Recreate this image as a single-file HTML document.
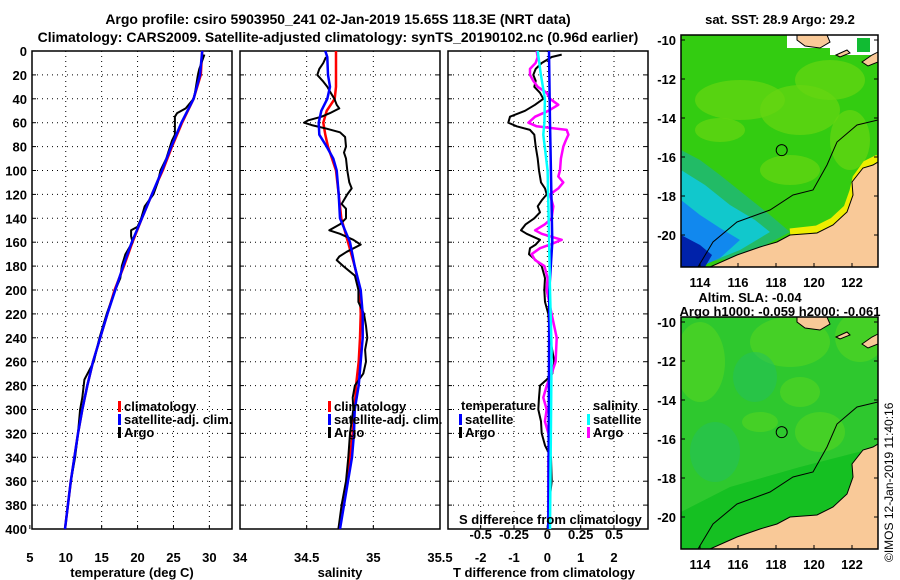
<!DOCTYPE html>
<html><head><meta charset="utf-8"><style>
html,body{margin:0;padding:0;background:#fff}
svg{display:block;font-family:"Liberation Sans",sans-serif;font-weight:bold}
</style></head><body>
<svg id="fig" width="900" height="580" viewBox="0 0 900 580">
<text x="338" y="24" text-anchor="middle" font-size="14">Argo profile: csiro 5903950_241 02-Jan-2019 15.65S 118.3E (NRT data)</text>
<text x="338" y="42" text-anchor="middle" font-size="14">Climatology: CARS2009. Satellite-adjusted climatology: synTS_20190102.nc (0.96d earlier)</text>
<g id="plots"></g>
<g id="maps"></g>
<text transform="translate(893,562) rotate(-90)" font-size="12" font-weight="normal">©IMOS 12-Jan-2019 11:40:16</text>
</svg>
<script>
// ---- data ----
const depthTicks=[0,20,40,60,80,100,120,140,160,180,200,220,240,260,280,300,320,340,360,380,400];
const tClimD=[0,20,40,60,80,100,120,140,160,180,200,220,240,260,280,300,320,340,360,380,400];
const tClim=[29.0,28.8,27.8,26.2,24.8,23.5,22.0,20.6,19.3,18.1,16.8,15.8,14.8,13.8,13.0,12.3,11.7,11.2,10.7,10.3,9.9];
const tSat=[29.0,28.7,27.8,26.1,24.7,23.4,22.0,20.6,19.2,18.0,16.9,15.8,14.8,13.8,13.0,12.3,11.7,11.2,10.7,10.3,9.9];
const tArgoD=[3,15,20,35,40,48,52,55,65,70,75,90,100,110,120,130,140,147,150,155,160,170,180,190,200,220,240,260,275,290,300,320,340,360,380,400];
const tArgo=[29.3,28.6,28.4,28.0,27.8,26.7,25.5,25.2,25.2,25.2,24.8,24.0,23.2,22.8,22.2,21.0,20.5,20.0,19.1,19.1,19.3,18.3,17.8,17.6,16.9,15.7,14.7,13.9,12.6,12.3,12.0,11.7,11.3,10.7,10.3,9.9];
const sClimD=[0,30,40,50,60,70,80,100,120,140,160,180,200,220,240,260,280,300,320,340,360,380,400];
const sClim=[34.72,34.72,34.71,34.65,34.625,34.64,34.66,34.72,34.74,34.76,34.81,34.86,34.9,34.905,34.9,34.89,34.87,34.86,34.845,34.825,34.8,34.775,34.74];
const sSatD=[0,5,20,30,40,50,60,70,80,90,100,120,140,160,180,200,220,240,260,280,300,320,340,360,380,400];
const sSat=[34.64,34.655,34.66,34.675,34.655,34.61,34.59,34.595,34.65,34.70,34.725,34.74,34.75,34.825,34.86,34.905,34.92,34.92,34.905,34.89,34.86,34.855,34.84,34.81,34.78,34.75];
const sArgoD=[5,10,15,20,25,30,35,40,45,48,52,55,58,60,62,65,68,72,80,85,90,100,110,115,120,128,132,140,145,150,153,158,162,168,172,175,180,188,200,210,220,230,240,250,260,270,280,290,300,320,340,360,380,400];
const sArgo=[34.645,34.625,34.595,34.58,34.62,34.655,34.68,34.708,34.725,34.745,34.675,34.612,34.512,34.48,34.538,34.65,34.75,34.788,34.795,34.78,34.795,34.805,34.82,34.838,34.805,34.762,34.795,34.795,34.75,34.67,34.75,34.85,34.905,34.8,34.745,34.725,34.775,34.862,34.888,34.888,34.93,34.945,34.955,34.938,34.945,34.925,34.862,34.845,34.85,34.825,34.812,34.795,34.762,34.738];
const dTArgoD=[3,5,10,15,20,25,30,35,40,45,50,55,60,63,66,70,80,90,100,110,115,120,125,130,135,140,145,150,153,158,162,165,170,175,180,190,200,210,220,240,260,270,275,280,290,300,310,320,330,340,360,380,400];
const dTArgo=[0.43,0.13,-0.17,-0.35,-0.42,-0.35,-0.39,-0.22,-0.12,-0.37,-0.67,-1.12,-1.17,-0.92,-0.52,-0.39,-0.35,-0.29,-0.25,-0.19,-0.07,-0.02,-0.17,-0.29,-0.22,-0.39,-0.65,-0.79,-0.62,-0.22,-0.35,-0.52,-0.55,-0.35,-0.17,-0.07,-0.09,-0.07,0.03,0.08,0.21,0.15,-0.02,-0.22,-0.25,-0.27,-0.19,-0.17,-0.07,0.11,0.13,0.05,0.01];
const dSArgoD=[0,5,10,15,20,25,30,35,40,45,50,55,60,63,66,70,75,80,90,100,105,110,115,120,130,140,145,150,153,158,162,165,170,175,180,190,200,220,240,260,270,280,290,300,310,320,330,340,360,380,400];
const dSArgo=[-0.08,-0.072,-0.088,-0.13,-0.13,-0.105,-0.072,-0.005,0.02,0.082,0.008,-0.092,-0.142,-0.08,0.145,0.158,0.138,0.12,0.102,0.095,0.082,0.12,0.082,0.02,0.045,0.032,-0.018,-0.092,-0.042,0.108,0.02,-0.055,-0.118,-0.092,-0.022,0.002,-0.005,0.032,0.07,0.062,0.032,-0.005,-0.03,-0.005,-0.018,0.008,0.02,0.008,0.008,0.008,0.008];
const dTSatD=[0,60,160,200,400];
const dTSat=[0.05,0.08,0.15,0.06,0.03];
const dSSatD=[0,20,40,60,70,100,150,200,250,300,400];
const dSSat=[-0.072,-0.048,-0.018,-0.022,-0.03,0.002,0.012,0.02,0.032,0.028,0.02];
const tTicks=[5,10,15,20,25,30];
const sTicks=[34,34.5,35,35.5];
const dTicks=[-2,-1,0,1,2];
const dTickLabels=["-2","-1","0","1","2"];
const sdTicks=[-0.5,-0.25,0,0.25,0.5];
const sdTickLabels=["-0.5","-0.25","0","0.25","0.5"];
const latTicks=[-10,-12,-14,-16,-18,-20];
const lonTicks=[114,116,118,120,122];

const NS="http://www.w3.org/2000/svg";
const plots=document.getElementById('plots');
function mk(tag,attrs,parent){const e=document.createElementNS(NS,tag);for(const k in attrs)e.setAttribute(k,attrs[k]);(parent||plots).appendChild(e);return e;}
const Y0=51,Y1=529;
function yD(d){return Y0+d*(Y1-Y0)/400;}
const P1={x0:32,x1:232,v0:5.3,v1:33.15};
const P2={x0:240,x1:440,v0:34,v1:35.5};
const P3={x0:448,x1:648,v0:-2.98,v1:3.02};
function xs(P,v){return P.x0+(v-P.v0)*(P.x1-P.x0)/(P.v1-P.v0);}
function xsd(v){return xs(P3,v*4);}

function frame(P,name){
  const g=mk('g',{});
  
  
  depthTicks.forEach(d=>{
    if(d>0&&d<400){const l=mk('line',{x1:P.x0,x2:P.x1,y1:yD(d),y2:yD(d),stroke:'#000','stroke-width':1,'stroke-dasharray':'1,4'},g);}
    mk('line',{x1:P.x0,x2:P.x0+4,y1:yD(d),y2:yD(d),stroke:'#000'},g);
    mk('line',{x1:P.x1-4,x2:P.x1,y1:yD(d),y2:yD(d),stroke:'#000'},g);
  });
  return g;
}
function vgrid(P,vals,g){vals.forEach(v=>{const x=xs(P,v);if(x>P.x0+1&&x<P.x1-1){const l=mk('line',{x1:x,x2:x,y1:Y0,y2:Y1,stroke:'#000','stroke-dasharray':'1,4'},g);}mk('line',{x1:x,x2:x,y1:Y1-4,y2:Y1,stroke:'#000'},g);});}
function box(P,g){const r=mk('rect',{x:P.x0,y:Y0,width:P.x1-P.x0,height:Y1-Y0,fill:'none',stroke:'#000','stroke-width':1.5},g);}
function line(xf,vals,ds,color,w,name){
  const pts=vals.map((v,i)=>xf(v).toFixed(1)+','+yD(ds[i]).toFixed(1)).join(' ');
  const p=mk('polyline',{points:pts,fill:'none',stroke:color,'stroke-width':w,'stroke-linejoin':'round'});
  
  
}
function txt(x,y,s,opts,name){const t=mk('text',Object.assign({x:x,y:y,'font-size':13},opts||{}));t.textContent=s;return t;}
function legItem(x,y,color,label,name){const r=mk('rect',{x:x,y:y-10,width:3,height:11,fill:color});txt(x+6,y,label,{},name);}

// panel 1
let g=frame(P1,'temperature-panel');vgrid(P1,tTicks,g);
depthTicks.forEach(d=>txt(27,yD(d)+5,String(d),{'text-anchor':'end'},'y-tick-label'));
tTicks.forEach(t=>txt(xs(P1,t),562,String(t),{'text-anchor':'middle'},'x-tick-temp'));
line(v=>xs(P1,v),tClim,tClimD,'#f00',2.5,'temp-climatology-line');
line(v=>xs(P1,v),tArgo,tArgoD,'#000',2,'temp-argo-line');
line(v=>xs(P1,v),tSat,tClimD,'#00f',2.5,'temp-satellite-line');
box(P1,g);
txt(132,577,'temperature (deg C)',{'text-anchor':'middle'},'x-axis-title-temperature');
legItem(118,411,'#f00','climatology','legend-climatology');
legItem(118,424,'#00f','satellite-adj. clim.','legend-satellite-adj');
legItem(118,437,'#000','Argo','legend-argo');

// panel 2
g=frame(P2,'salinity-panel');vgrid(P2,sTicks,g);
sTicks.forEach(s=>txt(xs(P2,s),562,String(s),{'text-anchor':'middle'},'x-tick-salinity'));
line(v=>xs(P2,v),sClim,sClimD,'#f00',2.5,'sal-climatology-line');
line(v=>xs(P2,v),sArgo,sArgoD,'#000',2,'sal-argo-line');
line(v=>xs(P2,v),sSat,sSatD,'#00f',2.5,'sal-satellite-line');
box(P2,g);
txt(340,577,'salinity',{'text-anchor':'middle'},'x-axis-title-salinity');
legItem(328,411,'#f00','climatology','legend-climatology-2');
legItem(328,424,'#00f','satellite-adj. clim.','legend-satellite-adj-2');
legItem(328,437,'#000','Argo','legend-argo-2');

// panel 3
g=frame(P3,'difference-panel');vgrid(P3,dTicks,g);
dTicks.forEach((t,i)=>txt(xs(P3,t),562,dTickLabels[i],{'text-anchor':'middle'},'x-tick-tdiff'));
line(v=>xs(P3,v),dTArgo,dTArgoD,'#000',2,'tdiff-argo-line');
line(xsd,dSArgo,dSArgoD,'#f0f',2.5,'sdiff-argo-line');
line(v=>xs(P3,v),dTSat,dTSatD,'#00f',2.5,'tdiff-satellite-line');
line(xsd,dSSat,dSSatD,'#0ff',2.5,'sdiff-satellite-line');
box(P3,g);
txt(544,577,'T difference from climatology',{'text-anchor':'middle'},'x-axis-title-tdiff');
txt(461,410,'temperature',{},'legend-temperature-head');
legItem(459,424,'#00f','satellite','legend-t-satellite');
legItem(459,437,'#000','Argo','legend-t-argo');
txt(593,410,'salinity',{},'legend-salinity-head');
legItem(587,424,'#0ff','satellite','legend-s-satellite');
legItem(587,437,'#f0f','Argo','legend-s-argo');
txt(459,524,'S difference from climatology',{},'s-axis-title');
sdTicks.forEach((s,i)=>txt(xsd(s),539,sdTickLabels[i],{'text-anchor':'middle'},'s-tick-label'));

// ---- maps ----
const maps=document.getElementById('maps');
function mapX(lon){return 700+(lon-114)*19;}
function mapLatY(lat,off){return 40+off+(-10-lat)*19.5;}
function drawMap(off,top,name){
  const m=mk('g',{},maps);
  
  
  const cid='clip'+off;
  const cp=mk('clipPath',{id:cid},m);mk('rect',{x:681,y:35+off,width:197,height:232},cp);
  const c=mk('g',{'clip-path':'url(#'+cid+')'},m);
  const o=off;
  const P=a=>a.map(p=>p[0]+','+(p[1]+o)).join(' ');
  if(top){
    mk('rect',{x:681,y:35+o,width:197,height:232,fill:'#33cc11'},c);
    [[740,100,45,20],[800,110,40,25],[830,80,35,20],[790,170,30,15],[720,130,25,12],[850,140,20,30]].forEach(e=>mk('ellipse',{cx:e[0],cy:e[1]+o,rx:e[2],ry:e[3],fill:'#66d611',opacity:0.7},c));
    mk('polygon',{points:P([[681,150],[700,160],[720,175],[745,195],[770,215],[790,232],[760,248],[730,258],[681,267]]),fill:'#22bb66'},c);
    mk('polygon',{points:P([[681,170],[705,185],[730,205],[755,220],[770,232],[740,250],[715,260],[681,267]]),fill:'#11c8cc'},c);
    mk('polygon',{points:P([[681,200],[700,215],[720,228],[740,240],[720,258],[700,267],[681,267]]),fill:'#1188ee'},c);
    mk('polygon',{points:P([[681,235],[700,245],[712,255],[705,267],[681,267]]),fill:'#0022aa'},c);
    mk('polyline',{points:P([[790,232],[817,229],[833,221],[847,208],[853,191],[856,178],[866,164],[878,158]]),fill:'none',stroke:'#eeee00','stroke-width':7},c);
    mk('rect',{x:787,y:35+o,width:43,height:13,fill:'#fff'},c);
    mk('rect',{x:830,y:35+o,width:48,height:20,fill:'#fff'},c);
    mk('rect',{x:857,y:38+o,width:13,height:14,fill:'#11bb33'},c);
  } else {
    mk('rect',{x:681,y:35+o,width:197,height:232,fill:'#2ec82e'},c);
    [[700,80,25,40],[790,60,40,25],[860,55,25,25],[800,110,20,15],[760,140,18,10],[820,150,25,20]].forEach(e=>mk('ellipse',{cx:e[0],cy:e[1]+o,rx:e[2],ry:e[3],fill:'#55d622',opacity:0.6},c));
    [[755,95,22,25],[715,170,25,30]].forEach(e=>mk('ellipse',{cx:e[0],cy:e[1]+o,rx:e[2],ry:e[3],fill:'#22c060',opacity:0.5},c));
    mk('polygon',{points:P([[681,230],[730,205],[800,185],[878,165],[878,267],[681,267]]),fill:'#15c022'},c);
  }
  const land=mk('polygon',{points:P([[710,267],[737,255],[760,247],[777,242],[790,235],[817,233],[833,225],[847,212],[853,195],[852,182],[863,168],[873,165],[878,162],[878,267]]),fill:'#f9c998',stroke:'#000','stroke-width':1},c);
  
  mk('polygon',{points:P([[797,35],[827,35],[830,42],[820,48],[805,46],[797,40]]),fill:'#f9c998',stroke:'#000'},c);
  mk('polygon',{points:P([[836,55],[847,50],[850,53],[840,57]]),fill:'#f9c998',stroke:'#000'},c);
  mk('polygon',{points:P([[862,62],[872,55],[878,52],[878,62],[868,66]]),fill:'#f9c998',stroke:'#000'},c);
  mk('polyline',{points:P([[698,267],[713,242],[737,222],[770,210],[793,195],[813,190],[827,165],[837,142],[857,125],[878,120]]),fill:'none',stroke:'#000','stroke-width':1},c);
  const circ=mk('circle',{cx:mapX(118.3),cy:mapLatY(-15.65,o),r:5.5,fill:'none',stroke:'#000'},m);
  
  mk('rect',{x:681,y:35+o,width:197,height:232,fill:'none',stroke:'#000','stroke-width':1.5},m);
  latTicks.forEach(l=>{const y=mapLatY(l,o);mk('line',{x1:681,x2:685,y1:y,y2:y,stroke:'#000'},m);mk('line',{x1:874,x2:878,y1:y,y2:y,stroke:'#000'},m);
    const t=mk('text',{x:676,y:y+5,'text-anchor':'end','font-size':13},m);t.textContent=String(l);});
  lonTicks.forEach(l=>{const x=mapX(l);mk('line',{x1:x,x2:x,y1:263+o,y2:267+o,stroke:'#000'},m);
    const t=mk('text',{x:x,y:287+o,'text-anchor':'middle','font-size':13},m);t.textContent=String(l);});
}
drawMap(0,true,'sst-map');
drawMap(282,false,'sla-map');
function mt(x,y,s,name){const t=mk('text',{x:x,y:y,'text-anchor':'middle','font-size':13},maps);t.textContent=s;}
mt(780,24,'sat. SST: 28.9 Argo: 29.2','sst-map-title');
mt(750,302,'Altim. SLA: -0.04','sla-map-title');
mt(780,316,'Argo h1000: -0.059 h2000: -0.061','argo-height-title');
</script>
</body></html>
